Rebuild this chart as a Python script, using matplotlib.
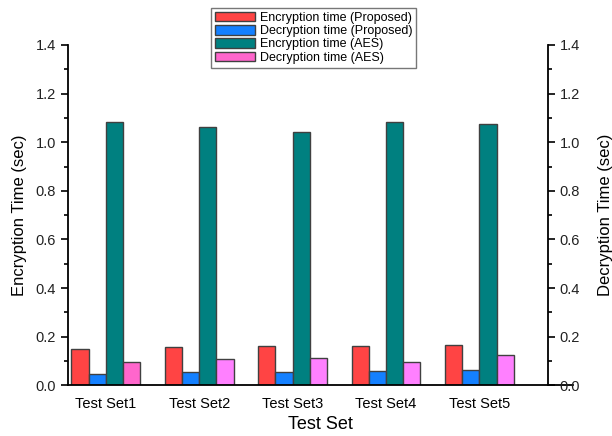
import matplotlib.pyplot as plt
from matplotlib.ticker import MultipleLocator
import numpy as np

plt.rcParams['font.family'] = ['Liberation Sans', 'DejaVu Sans']

sets = ['Test Set1', 'Test Set2', 'Test Set3', 'Test Set4', 'Test Set5']

enc_proposed = [0.150, 0.156, 0.163, 0.164, 0.167]
dec_proposed = [0.048, 0.057, 0.057, 0.058, 0.063]
enc_aes = [1.083, 1.063, 1.042, 1.081, 1.075]
dec_aes = [0.097, 0.109, 0.113, 0.098, 0.124]

labels = ['Encryption time (Proposed)', 'Decryption time (Proposed)',
          'Encryption time (AES)', 'Decryption time (AES)']
colors = ['#ff4444', '#1480ff', '#008080', '#ff80ff']

fig = plt.figure(figsize=(6.12, 4.36), dpi=100)
ax = fig.add_axes([0.111, 0.116, 0.825, 0.781])

x = np.arange(1, len(sets) + 1)
w = 0.184
series = [enc_proposed, dec_proposed, enc_aes, dec_aes]
for i, vals in enumerate(series):
    bars = ax.bar(x + (i - 1.5) * w, vals, w, color=colors[i],
                  edgecolor='#404040', linewidth=1.0, label=labels[i])
    if i == 3:
        bars[0].set_facecolor('#ff66cc')

ax.set_xlim(0.594, 6.0)
ax.set_ylim(0, 1.4)
ax.yaxis.set_major_locator(MultipleLocator(0.2))
ax.yaxis.set_minor_locator(MultipleLocator(0.1))
ax.set_xticks(x)
ax.set_xticklabels(sets, fontsize=10.5)
ax.tick_params(axis='x', length=0, pad=8)
ax.tick_params(axis='y', which='major', direction='out', length=5, width=1.2,
               labelsize=10.5, labelcolor='#222222')
ax.tick_params(axis='y', which='minor', direction='out', length=3, width=1.2)
ax.spines['top'].set_visible(False)
ax.spines['right'].set_visible(False)
ax.spines['left'].set_linewidth(1.3)
ax.spines['bottom'].set_linewidth(1.3)
ax.set_xlabel('Test Set', fontsize=13, labelpad=4)
ax.set_ylabel('Encryption Time (sec)', fontsize=12, labelpad=6)

# second y axis for decryption time, drawn inside the x range
ax2 = ax.twinx()
ax2.set_ylim(0, 1.4)
ax2.yaxis.set_major_locator(MultipleLocator(0.2))
ax2.yaxis.set_minor_locator(MultipleLocator(0.1))
ax2.spines['right'].set_position(('axes', 0.9505))
ax2.spines['right'].set_linewidth(1.3)
for s in ['top', 'left', 'bottom']:
    ax2.spines[s].set_visible(False)
ax2.tick_params(axis='y', which='major', direction='out', length=5, width=1.2,
                labelsize=10.5, labelcolor='#222222')
ax2.tick_params(axis='y', which='minor', direction='out', length=3, width=1.2)
ax2.set_ylabel('Decryption Time (sec)', fontsize=12)
ax2.yaxis.set_label_coords(1.05, 0.5)

leg = ax.legend(loc='upper center', bbox_to_anchor=(0.512, 0.982),
                bbox_transform=fig.transFigure, fontsize=9, frameon=True,
                fancybox=False, edgecolor='#555555', handlelength=3.2,
                handleheight=0.8, labelspacing=0.1, borderpad=0.3,
                handletextpad=0.4, borderaxespad=0)
leg.get_frame().set_linewidth(1.0)

fig.savefig('out.png', dpi=100)
